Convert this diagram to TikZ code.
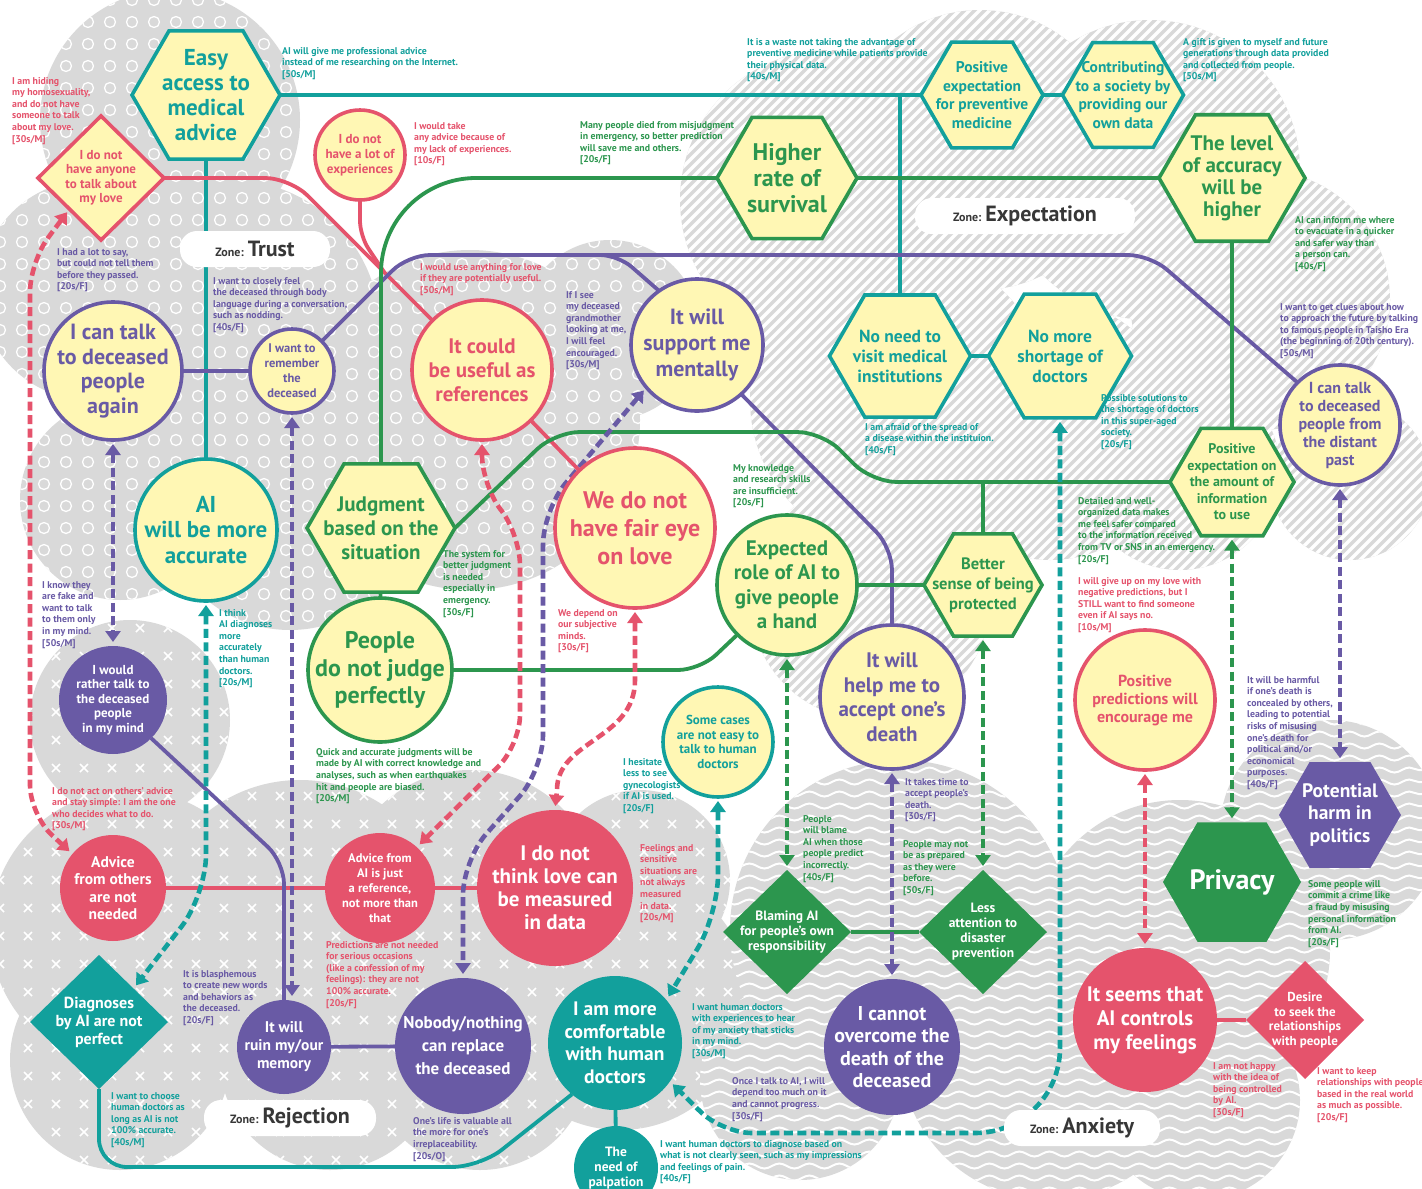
\documentclass[tikz,border=0pt]{standalone}
\usepackage{fontspec}
\setmainfont{PT Sans}
\usetikzlibrary{shapes.geometric,arrows.meta,decorations.pathmorphing}

\definecolor{tealc}{RGB}{18,160,156}
\definecolor{redc}{RGB}{229,83,108}
\definecolor{greenc}{RGB}{44,150,78}
\definecolor{purplec}{RGB}{105,90,165}
\definecolor{paley}{RGB}{255,247,180}
\definecolor{zgray}{RGB}{217,217,217}
\definecolor{ztext}{RGB}{55,55,55}

\newcommand\fz[2]{\fontsize{#1}{#2}\selectfont\bfseries}
\newcommand\notefont{\fontsize{9.8}{11.6}\selectfont\bfseries}

\pgfdeclarelayer{bg}
\pgfdeclarelayer{wires}
\pgfsetlayers{bg,wires,main}

\tikzset{
  shp/.style={line width=3.6pt, inner sep=0pt, outer sep=0pt},
  hexo/.style={shp, regular polygon, regular polygon sides=6, draw=#1, fill=paley},
  hexf/.style={shp, regular polygon, regular polygon sides=6, fill=#1},
  circo/.style={shp, circle, draw=#1, fill=paley},
  circf/.style={shp, circle, fill=#1},
  diao/.style={shp, diamond, draw=#1, fill=paley},
  diaf/.style={shp, diamond, fill=#1},
  lab/.style={align=center, text=#1, inner sep=0pt},
  note/.style={anchor=north west, inner sep=0pt, align=left, font=\notefont, text=#1},
  wire/.style={line width=3.8pt, draw=#1},
  dwire/.style={line width=4.6pt, draw=#1, dash pattern=on 9pt off 4.5pt,
    arrows={Triangle[length=11pt,width=15pt]-Triangle[length=11pt,width=15pt]},
    shorten <=4pt, shorten >=4pt},
  zone/.style={fill=white, rounded corners=17pt, minimum height=36pt, text=ztext, inner xsep=14pt},
}

\begin{document}
\begin{tikzpicture}[x=1pt,y=-1pt]
  \useasboundingbox (0,0) rectangle (1422,1189);

  % zones
  \begin{pgfonlayer}{bg}
    \fill[white] (0,0) rectangle (1422,1189);
    \begin{scope}
      \clip (170,120) circle (130) (90,290) circle (110) (230,330) circle (150)
        (120,500) circle (100) (290,500) circle (130) (470,420) circle (170) (610,330) circle (90);
      \fill[zgray] (0,0) rectangle (720,660);
      \foreach \px in {0,22,...,720}
        \foreach \py in {0,22,...,660}
          \draw[white, line width=1.3pt] (\px,\py) circle (5.5);
    \end{scope}
    \begin{scope}
      \clip (830,200) circle (150) (980,150) circle (140) (1150,170) circle (150)
        (1260,300) circle (130) (900,400) circle (150) (1050,430) circle (130)
        (1180,470) circle (100) (870,600) circle (120) (1350,480) circle (80);
      \fill[zgray] (660,0) rectangle (1422,740);
      \foreach \k in {660,670,...,2170}
        \draw[white, line width=3.5pt] (\k,0) -- ++(-760,760);
    \end{scope}
    \begin{scope}
      \clip (130,720) circle (100) (130,930) circle (140) (120,1060) circle (110)
        (300,930) circle (150) (330,1060) circle (110) (470,900) circle (130)
        (480,1060) circle (110) (620,1000) circle (130) (640,880) circle (90);
      \fill[zgray] (0,600) rectangle (770,1189);
      \foreach \px in {0,28,...,770}
        \foreach \py in {600,628,...,1190}
          \draw[white, line width=1.5pt] (\px-4,\py-4) -- (\px+4,\py+4) (\px-4,\py+4) -- (\px+4,\py-4);
    \end{scope}
    \begin{scope}
      \clip (900,930) circle (170) (1050,1050) circle (150) (1180,950) circle (150)
        (1330,830) circle (110) (1200,1100) circle (100) (800,1080) circle (100);
      \fill[zgray] (650,650) rectangle (1422,1189);
      \foreach \py in {650,662,...,1200}
        \draw[white, line width=2pt, decorate, decoration={snake, amplitude=2.5pt, segment length=30pt}]
          (650,\py) -- (1422,\py);
    \end{scope}
  \end{pgfonlayer}

  % trust / expectation nodes
  \node[hexo=tealc, minimum size=148pt, label={[lab=tealc, font=\fz{23}{25}]center:{Easy\\access to\\medical\\advice}}] (easy) at (206,95) {};
  \node[diao=redc, minimum width=126pt, minimum height=124pt, label={[lab=redc, font=\fz{13}{14.5}]center:{I do not\\have anyone\\to talk about\\my love}}] (nolove) at (101,178) {};
  \node[circo=redc, minimum size=90pt, label={[lab=redc, font=\fz{13}{15}]center:{I do not\\have a lot of\\experiences}}] (noexp) at (360,155) {};
  \node[hexo=greenc, minimum size=140pt, label={[lab=greenc, font=\fz{24}{26}]center:{Higher\\rate of\\survival}}] (survival) at (787,178) {};
  \node[hexo=tealc, minimum size=122pt, label={[lab=tealc, font=\fz{15.5}{18.5}]center:{Positive\\expectation\\for preventive\\medicine}}] (preventive) at (982,95) {};
  \node[hexo=tealc, minimum size=121pt, label={[lab=tealc, font=\fz{15.5}{18.5}]center:{Contributing\\to a society by\\providing our\\own data}}] (contrib) at (1123,95) {};
  \node[hexo=greenc, minimum size=146pt, label={[lab=greenc, font=\fz{21}{22}]center:{The level\\of accuracy\\will be\\higher}}] (accuracy) at (1232,178) {};
  \node[circo=purplec, minimum size=138pt, label={[lab=purplec, font=\fz{22}{24.5}]center:{I can talk\\to deceased\\people\\again}}] (talkagain) at (113,371) {};
  \node[circo=purplec, minimum size=84pt, label={[lab=purplec, font=\fz{12.5}{15}]center:{I want to\\remember\\the\\deceased}}] (remember) at (292,371) {};
  \node[circo=redc, minimum size=140pt, label={[lab=redc, font=\fz{21}{24}]center:{It could\\be useful as\\references}}] (useful) at (482,370) {};
  \node[circo=purplec, minimum size=132pt, label={[lab=purplec, font=\fz{22}{26}]center:{It will\\support me\\mentally}}] (support) at (697,345) {};
  \node[hexo=tealc, minimum size=141pt, label={[lab=tealc, font=\fz{17.5}{20}]center:{No need to\\visit medical\\institutions}}] (novisit) at (900,356) {};
  \node[hexo=tealc, minimum size=143pt, label={[lab=tealc, font=\fz{17.5}{20}]center:{No more\\shortage of\\doctors}}] (noshort) at (1060,356) {};
  \node[circo=purplec, minimum size=120pt, label={[lab=purplec, font=\fz{16}{18}]center:{I can talk\\to deceased\\people from\\the distant\\past}}] (distant) at (1340,425) {};
  \node[hexo=greenc, minimum size=124pt, label={[lab=greenc, font=\fz{14}{16.5}]center:{Positive\\expectation on\\the amount of\\information\\to use}}] (amount) at (1232,482) {};
  \node[circo=tealc, minimum size=142pt, label={[lab=tealc, font=\fz{23}{25.5}]center:{AI\\will be more\\accurate}}] (accurate) at (206,530) {};
  \node[hexo=greenc, minimum size=148pt, label={[lab=greenc, font=\fz{21}{24}]center:{Judgment\\based on the\\situation}}] (judgment) at (381,528) {};
  \node[circo=redc, minimum size=160pt, label={[lab=redc, font=\fz{24}{28}]center:{We do not\\have fair eye\\on love}}] (faireye) at (635,528) {};
  \node[circo=greenc, minimum size=144pt, label={[lab=greenc, font=\fz{24}{27.5}]center:{People\\do not judge\\perfectly}}] (judge) at (380,670) {};
  \node[circo=greenc, minimum size=140pt, label={[lab=greenc, font=\fz{21}{24.5}]center:{Expected\\role of AI to\\give people\\a hand}}] (role) at (787,585) {};
  \node[hexo=greenc, minimum size=118pt, label={[lab=greenc, font=\fz{16.5}{20}]center:{Better\\sense of being\\protected}}] (protected) at (983,585) {};
  \node[circo=purplec, minimum size=144pt, label={[lab=purplec, font=\fz{21}{24.5}]center:{It will\\help me to\\accept one's\\death}}] (acceptdeath) at (892,697) {};
  \node[circo=tealc, minimum size=110pt, label={[lab=tealc, font=\fz{13}{14.5}]center:{Some cases\\are not easy to\\talk to human\\doctors}}] (somecases) at (718,742) {};
  \node[circo=redc, minimum size=140pt, label={[lab=redc, font=\fz{16}{18}]center:{Positive\\predictions will\\encourage me}}] (encourage) at (1145,700) {};

  % rejection / anxiety nodes
  \node[circf=purplec, minimum size=108pt, label={[lab=white, font=\fz{13}{14.5}]center:{I would\\rather talk to\\the deceased\\people\\in my mind}}] (rathertalk) at (113,700) {};
  \node[circf=redc, minimum size=106pt, label={[lab=white, font=\fz{15.5}{17.5}]center:{Advice\\from others\\are not\\needed}}] (advice) at (113,888) {};
  \node[circf=redc, minimum size=110pt, label={[lab=white, font=\fz{12.5}{15}]center:{Advice from\\AI is just\\a reference,\\not more than\\that}}] (advai) at (380,888) {};
  \node[circf=redc, minimum size=156pt, label={[lab=white, font=\fz{21}{23}]center:{I do not\\think love can\\be measured\\in data}}] (lovedata) at (555,888) {};
  \node[diaf=greenc, minimum width=128pt, minimum height=124pt, label={[lab=white, font=\fz{13.5}{15}]center:{Blaming AI\\for people's own\\responsibility}}] (blaming) at (787,932) {};
  \node[diaf=greenc, minimum width=128pt, minimum height=124pt, label={[lab=white, font=\fz{13.5}{15}]center:{Less\\attention to\\disaster\\prevention}}] (lessattn) at (983,932) {};
  \node[hexf=greenc, minimum size=138pt, label={[lab=white, font=\fz{28}{30}]center:{Privacy}}] (privacy) at (1232,882) {};
  \node[hexf=purplec, minimum size=122pt, label={[lab=white, font=\fz{19.5}{22.5}]center:{Potential\\harm in\\politics}}] (politics) at (1340,815) {};
  \node[diaf=tealc, minimum width=138pt, minimum height=134pt, label={[lab=white, font=\fz{16}{18}]center:{Diagnoses\\by AI are not\\perfect}}] (diagnoses) at (99,1022) {};
  \node[circf=purplec, minimum size=94pt, label={[lab=white, font=\fz{15.5}{18}]center:{It will\\ruin my/our\\memory}}] (ruin) at (284,1047) {};
  \node[circf=purplec, minimum size=136pt, label={[lab=white, font=\fz{17}{23}]center:{Nobody/nothing\\can replace\\the deceased}}] (nobody) at (463,1046) {};
  \node[circf=tealc, minimum size=134pt, label={[lab=white, font=\fz{19.5}{22.5}]center:{I am more\\comfortable\\with human\\doctors}}] (comfort) at (615,1043) {};
  \node[circf=tealc, minimum size=84pt, label={[lab=white, font=\fz{13.5}{15}]center:{The\\need of\\palpation}}] (palpation) at (616,1168) {};
  \node[circf=purplec, minimum size=136pt, label={[lab=white, font=\fz{20}{22.5}]center:{I cannot\\overcome the\\death of the\\deceased}}] (overcome) at (892,1047) {};
  \node[circf=redc, minimum size=144pt, label={[lab=white, font=\fz{21}{24}]center:{It seems that\\AI controls\\my feelings}}] (controls) at (1145,1020) {};
  \node[diaf=redc, minimum width=118pt, minimum height=118pt, label={[lab=white, font=\fz{13}{14.5}]center:{Desire\\to seek the\\relationships\\with people}}] (desire) at (1305,1020) {};

  % zone labels
  \node[zone, minimum width=150pt] (ztrust) at (255,249) {{\fz{12}{14}Zone: }{\fz{22}{24}Trust}};
  \node[zone, minimum width=220pt] (zexpect) at (1025,216) {{\fz{12}{14}Zone: }{\fz{22}{24}Expectation}};
  \node[zone, minimum width=172pt] (zreject) at (290,1118) {{\fz{12}{14}Zone: }{\fz{22}{24}Rejection}};
  \node[zone, minimum width=156pt] (zanx) at (1082,1128) {{\fz{12}{14}Zone: }{\fz{22}{24}Anxiety}};

  \coordinate (tjoin) at (900,95);
  \coordinate (gjoin) at (983,482);

  \begin{pgfonlayer}{wires}
    % solid lines
    \draw[wire=tealc] (easy) -- (accurate);
    \draw[wire=tealc] (easy) -- (contrib);
    \draw[wire=tealc] (tjoin) -- (novisit);
    \draw[wire=tealc] (novisit) -- (noshort);
    \draw[wire=tealc, rounded corners=28pt] (diagnoses.south) -- (99,1167) -- (480,1167) -- (comfort.-130);
    \draw[wire=tealc] (comfort) -- (palpation);
    \draw[wire=redc, rounded corners=25pt] (nolove.east) -- (290,178) -- (360,248) -- (useful.135);
    \draw[wire=redc, rounded corners=15pt] (noexp.south) -- (360,236) -- (384,272);
    \draw[wire=redc] (useful) -- (faireye);
    \draw[wire=redc] (advice) -- (lovedata);
    \draw[wire=redc] (controls) -- (desire);
    \draw[wire=purplec] (talkagain) -- (remember);
    \draw[wire=purplec, rounded corners=22pt] (remember.45) -- (408,255) -- (1150,255) -- (distant.135);
    \draw[wire=purplec, rounded corners=18pt] (590,255) -- (618,255) -- (support.125);
    \draw[wire=purplec, rounded corners=22pt] (support.-48) -- (892,548) -- (acceptdeath.north);
    \draw[wire=purplec, rounded corners=22pt] (rathertalk.-45) -- (284,862) -- (ruin.north);
    \draw[wire=purplec] (ruin) -- (nobody);
    \draw[wire=greenc, rounded corners=95pt] (judgment.north) -- (381,178) -- (survival.west);
    \draw[wire=greenc] (survival) -- (accuracy);
    \draw[wire=greenc] (accuracy) -- (amount);
    \draw[wire=greenc, rounded corners=25pt] (judgment.east) -- (555,432) -- (822,432) -- (872,482) -- (amount.west);
    \draw[wire=greenc] (gjoin) -- (protected);
    \draw[wire=greenc] (judgment) -- (judge);
    \draw[wire=greenc, rounded corners=22pt] (judge.east) -- (700,670) -- (role.-135);
    \draw[wire=greenc] (role) -- (protected);
    \draw[wire=greenc] (blaming) -- (lessattn);
    % dashed arrows
    \draw[dwire=redc, rounded corners=30pt] (nolove.south west) -- (30,262) -- (30,815) -- (advice.140);
    \draw[dwire=redc, rounded corners=30pt] (useful.south) -- (482,485) -- (520,535) -- (520,745) -- (advai.48);
    \draw[dwire=redc] (faireye.south) -- (635,680) .. controls (635,740) and (557,740) .. (557,790) -- (lovedata.north);
    \draw[dwire=redc] (encourage) -- (controls);
    \draw[dwire=purplec] (talkagain) -- (rathertalk);
    \draw[dwire=purplec] (remember.south) -- (remember.south |- ruin.north);
    \draw[dwire=purplec, rounded corners=35pt] (support.220) -- (543,510) -- (543,770) -- (463,860) -- (nobody.north);
    \draw[dwire=purplec] (acceptdeath) -- (overcome);
    \draw[dwire=purplec] (distant) -- (politics);
    \draw[dwire=tealc, rounded corners=40pt] (accurate.south) -- (206,895) -- (diagnoses.north east);
    \draw[dwire=tealc, rounded corners=40pt] (somecases.south) -- (718,915) -- (comfort.40);
    \draw[dwire=tealc] [rounded corners=85pt] (noshort.south) -- (1060,1133) [rounded corners=30pt] -- (722,1133) -- (comfort.-35);
    \draw[dwire=greenc] (role) -- (blaming);
    \draw[dwire=greenc] (protected) -- (lessattn);
    \draw[dwire=greenc] (amount) -- (privacy);
  \end{pgfonlayer}

  % voices
  \node[note=tealc] (q1) at (282,47) {AI will give me professional advice\\instead of me researching on the Internet.\\{[50s/M]}};
  \node[note=redc] (q2) at (12,77) {I am hiding\\my homosexuality,\\and do not have\\someone to talk\\about my love.\\{[30s/M]}};
  \node[note=redc] (q3) at (414,122) {I would take\\any advice because of\\my lack of experiences.\\{[10s/F]}};
  \node[note=greenc] (q4) at (580,121) {Many people died from misjudgment\\in emergency, so better prediction\\will save me and others.\\{[20s/F]}};
  \node[note=tealc] (q5) at (747,38) {It is a waste not taking the advantage of\\preventive medicine while patients provide\\their physical data.\\{[40s/M]}};
  \node[note=tealc] (q6) at (1183,38) {A gift is given to myself and future\\generations through data provided\\and collected from people.\\{[50s/M]}};
  \node[note=purplec] (q7) at (57,248) {I had a lot to say,\\but could not tell them\\before they passed.\\{[20s/F]}};
  \node[note=purplec] (q8) at (213,277) {I want to closely feel\\the deceased through body\\language during a conversation,\\such as nodding.\\{[40s/F]}};
  \node[note=redc] (q9) at (420,263) {I would use anything for love\\if they are potentially useful.\\{[50s/M]}};
  \node[note=purplec] (q10) at (566,291) {If I see\\my deceased\\grandmother\\looking at me,\\I will feel\\encouraged.\\{[30s/M]}};
  \node[note=greenc] (q11) at (1295,216) {AI can inform me where\\to evacuate in a quicker\\and safer way than\\a person can.\\{[40s/F]}};
  \node[note=purplec] (q12) at (1280,303) {I want to get clues about how\\to approach the future by talking\\to famous people in Taisho Era\\(the beginning of 20th century).\\{[50s/M]}};
  \node[note=tealc] (q13) at (865,423) {I am afraid of the spread of\\a disease within the instituion.\\{[40s/F]}};
  \node[note=tealc] (q14) at (1101,394) {Possible solutions to\\the shortage of doctors\\in this super-aged\\society.\\{[20s/F]}};
  \node[note=greenc] (q15) at (733,464) {My knowledge\\and research skills\\are insufficient.\\{[20s/F]}};
  \node[note=greenc] (q16) at (1078,497) {Detailed and well-\\organized data makes\\me feel safer compared\\to the information received\\from TV or SNS in an emergency.\\{[20s/F]}};
  \node[note=redc] (q17) at (1078,577) {I will give up on my love with\\negative predictions, but I\\STILL want to find someone\\even if AI says no.\\{[10s/M]}};
  \node[note=purplec] (q18) at (42,581) {I know they\\are fake and\\want to talk\\to them only\\in my mind.\\{[50s/M]}};
  \node[note=tealc] (q19) at (219,609) {I think\\AI diagnoses\\more\\accurately\\than human\\doctors.\\{[20s/M]}};
  \node[note=greenc] (q20) at (443,550) {The system for\\better judgment\\is needed\\especially in\\emergency.\\{[30s/F]}};
  \node[note=redc] (q21) at (558,609) {We depend on\\our subjective\\minds.\\{[30s/F]}};
  \node[note=greenc] (q22) at (316,748) {Quick and accurate judgments will be\\made by AI with correct knowledge and\\analyses, such as when earthquakes\\hit and people are biased.\\{[20s/M]}};
  \node[note=tealc] (q23) at (623,758) {I hesitate\\less to see\\gynecologists\\if AI is used.\\{[20s/F]}};
  \node[note=redc] (q24) at (52,787) {I do not act on others' advice\\and stay simple: I am the one\\who decides what to do.\\{[30s/M]}};
  \node[note=greenc] (q25) at (803,815) {People\\will blame\\AI when those\\people predict\\incorrectly.\\{[40s/F]}};
  \node[note=purplec] (q26) at (905,778) {It takes time to\\accept people's\\death.\\{[30s/F]}};
  \node[note=greenc] (q27) at (903,840) {People may not\\be as prepared\\as they were\\before.\\{[50s/F]}};
  \node[note=purplec] (q28) at (1247,676) {It will be harmful\\if one's death is\\concealed by others,\\leading to potential\\risks of misusing\\one's death for\\political and/or\\economical\\purposes.\\{[40s/F]}};
  \node[note=redc] (q29) at (640,844) {Feelings and\\sensitive\\situations are\\not always\\measured\\in data.\\{[20s/M]}};
  \node[note=redc] (q30) at (326,941) {Predictions are not needed\\for serious occasions\\(like a confession of my\\feelings): they are not\\100\% accurate.\\{[20s/F]}};
  \node[note=purplec] (q31) at (183,970) {It is blasphemous\\to create new words\\and behaviors as\\the deceased.\\{[20s/F]}};
  \node[note=tealc] (q32) at (111,1092) {I want to choose\\human doctors as\\long as AI is not\\100\% accurate.\\{[40s/M]}};
  \node[note=purplec] (q33) at (413,1117) {One's life is valuable all\\the more for one's\\irreplaceability.\\{[20s/O]}};
  \node[note=tealc] (q34) at (692,1003) {I want human doctors\\with experiences to hear\\of my anxiety that sticks\\in my mind.\\{[30s/M]}};
  \node[note=purplec] (q35) at (732,1077) {Once I talk to AI, I will\\depend too much on it\\and cannot progress.\\{[30s/F]}};
  \node[note=tealc] (q36) at (660,1140) {I want human doctors to diagnose based on\\what is not clearly seen, such as my impressions\\and feelings of pain.\\{[40s/F]}};
  \node[note=greenc] (q37) at (1308,880) {Some people will\\commit a crime like\\a fraud by misusing\\personal information\\from AI.\\{[20s/F]}};
  \node[note=redc] (q38) at (1213,1062) {I am not happy\\with the idea of\\being controlled\\by AI.\\{[30s/F]}};
  \node[note=redc] (q39) at (1317,1067) {I want to keep\\relationships with people\\based in the real world\\as much as possible.\\{[20s/F]}};
\end{tikzpicture}
\end{document}
